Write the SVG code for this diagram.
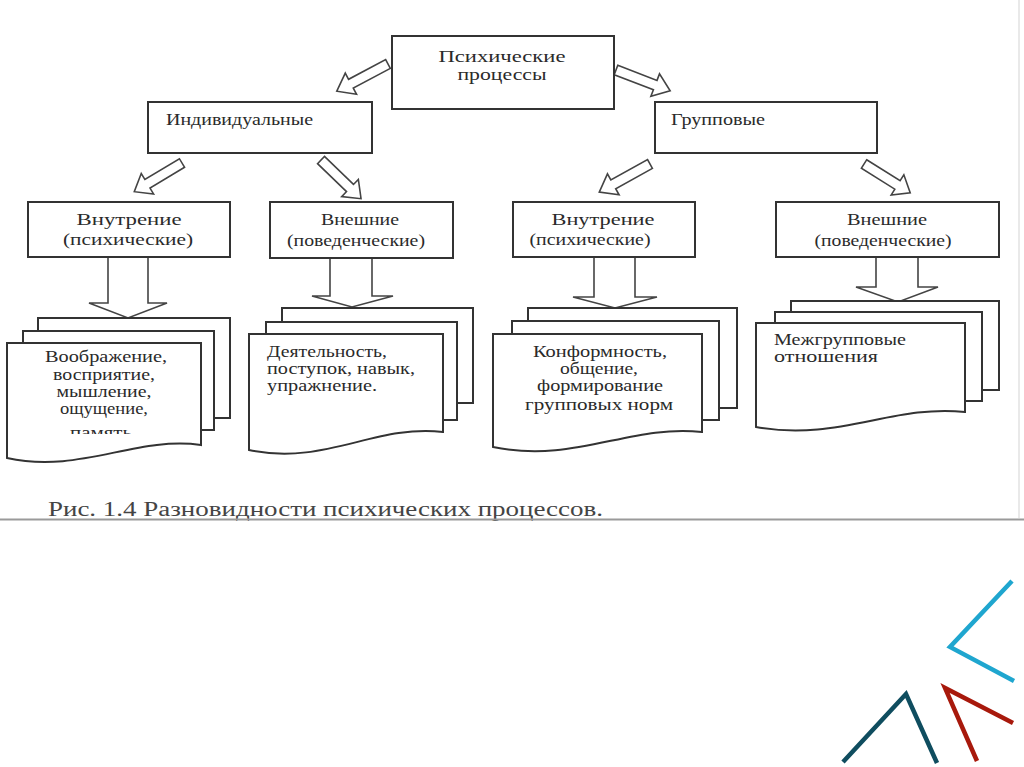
<svg xmlns="http://www.w3.org/2000/svg" xmlns:xlink="http://www.w3.org/1999/xlink" width="1024" height="767" viewBox="0 0 1024 767">
<style>
.box{fill:#fff;stroke:#333;stroke-width:2}
.sheet{fill:#fff;stroke:#333;stroke-width:2}
.barrow{fill:#fff;stroke:#444;stroke-width:1.6;stroke-linejoin:miter}
.t{font-family:"Liberation Serif","Times New Roman",serif;font-size:16px;fill:#2a2a2a}
.c{text-anchor:middle}
.cap{font-family:"Liberation Serif","Times New Roman",serif;font-size:20px;fill:#444}
.deco{fill:none;stroke-width:4.5;stroke-linecap:butt;stroke-linejoin:miter}
</style>
<defs>
<polygon id="da" points="0,-5 42,-5 42,-12 58,0 42,12 42,5 0,5"/>
<clipPath id="clip1"><rect x="0" y="330" width="260" height="104"/></clipPath>
</defs>
<rect width="1024" height="767" fill="#fff"/>
<line x1="1019" y1="0" x2="1019" y2="518" stroke="#e2e2e2" stroke-width="1.5"/>

<g id="connectors">
<use xlink:href="#da" class="barrow" transform="translate(388,64) rotate(152)"/>
<use xlink:href="#da" class="barrow" transform="translate(616,70) rotate(21)"/>
<use xlink:href="#da" class="barrow" transform="translate(182,163) rotate(149) scale(0.96,1)"/>
<use xlink:href="#da" class="barrow" transform="translate(321,160) rotate(44) scale(0.96,1)"/>
<use xlink:href="#da" class="barrow" transform="translate(650,164) rotate(151)"/>
<use xlink:href="#da" class="barrow" transform="translate(864,164) rotate(32) scale(0.94,1)"/>
<polygon class="barrow" points="108,257 148,257 148,303 167,303 128,318 89,303 108,303"/>
<polygon class="barrow" points="330,258 372,258 372,296 393,296 352,307 312,296 330,296"/>
<polygon class="barrow" points="594,257 635,257 635,297 657,297 615,308 573,297 594,297"/>
<polygon class="barrow" points="876,257 918,257 918,287 938,287 898,302 856,287 876,287"/>
</g>

<g id="node-root">
<rect class="box" x="392" y="36" width="222" height="73"/>
<text class="t c" x="502" y="62" font-size="17" textLength="127" lengthAdjust="spacingAndGlyphs">Психические</text>
<text class="t c" x="502" y="80" font-size="17" textLength="89" lengthAdjust="spacingAndGlyphs">процессы</text>
</g>

<g id="node-individual">
<rect class="box" x="148" y="102" width="224" height="51"/>
<text class="t" x="166" y="125" textLength="147" lengthAdjust="spacingAndGlyphs">Индивидуальные</text>
</g>

<g id="node-group">
<rect class="box" x="655" y="102" width="222" height="51"/>
<text class="t" x="671" y="125" textLength="94" lengthAdjust="spacingAndGlyphs">Групповые</text>
</g>

<g id="node-ind-internal">
<rect class="box" x="28" y="202" width="202" height="55"/>
<text class="t c" x="129" y="225" textLength="105" lengthAdjust="spacingAndGlyphs">Внутрение</text>
<text class="t c" x="128" y="245" textLength="130" lengthAdjust="spacingAndGlyphs">(психические)</text>
</g>

<g id="node-ind-external">
<rect class="box" x="270" y="202" width="183" height="56"/>
<text class="t c" x="360" y="225" textLength="78" lengthAdjust="spacingAndGlyphs">Внешние</text>
<text class="t c" x="356" y="246" textLength="138" lengthAdjust="spacingAndGlyphs">(поведенческие)</text>
</g>

<g id="node-grp-internal">
<rect class="box" x="513" y="202" width="182" height="55"/>
<text class="t c" x="603" y="225" textLength="103" lengthAdjust="spacingAndGlyphs">Внутрение</text>
<text class="t c" x="590" y="245" textLength="121" lengthAdjust="spacingAndGlyphs">(психические)</text>
</g>

<g id="node-grp-external">
<rect class="box" x="776" y="202" width="223" height="55"/>
<text class="t c" x="887" y="225" textLength="80" lengthAdjust="spacingAndGlyphs">Внешние</text>
<text class="t c" x="883" y="246" textLength="137" lengthAdjust="spacingAndGlyphs">(поведенческие)</text>
</g>

<g id="doc-ind-internal">
<rect class="sheet" x="38" y="318" width="192" height="100"/>
<rect class="sheet" x="23" y="331" width="191" height="99"/>
<path class="sheet" d="M7,343 H201 V445 C135,436 80,474 7,458 Z"/>
<g clip-path="url(#clip1)">
<text class="t c" x="106" y="362" textLength="122" lengthAdjust="spacingAndGlyphs">Воображение,</text>
<text class="t c" x="104" y="380" textLength="102" lengthAdjust="spacingAndGlyphs">восприятие,</text>
<text class="t c" x="104" y="397" textLength="95" lengthAdjust="spacingAndGlyphs">мышление,</text>
<text class="t c" x="104" y="414" textLength="88" lengthAdjust="spacingAndGlyphs">ощущение,</text>
<text class="t c" x="101" y="438" textLength="62" lengthAdjust="spacingAndGlyphs">память</text>
</g>
</g>

<g id="doc-ind-external">
<rect class="sheet" x="282" y="308" width="191" height="95"/>
<rect class="sheet" x="266" y="322" width="191" height="98"/>
<path class="sheet" d="M249,334 H443 V432 C375,424 325,466 249,450 Z"/>
<text class="t" x="267" y="357" textLength="120" lengthAdjust="spacingAndGlyphs">Деятельность,</text>
<text class="t" x="267" y="374" textLength="148" lengthAdjust="spacingAndGlyphs">поступок, навык,</text>
<text class="t" x="267" y="391" textLength="110" lengthAdjust="spacingAndGlyphs">упражнение.</text>
</g>

<g id="doc-grp-internal">
<rect class="sheet" x="528" y="308" width="209" height="100"/>
<rect class="sheet" x="512" y="321" width="207" height="99"/>
<path class="sheet" d="M493,334 H702 V432 C630,424 575,464 493,447 Z"/>
<text class="t c" x="600" y="357" textLength="134" lengthAdjust="spacingAndGlyphs">Конформность,</text>
<text class="t c" x="599" y="374" textLength="78" lengthAdjust="spacingAndGlyphs">общение,</text>
<text class="t c" x="600" y="391" textLength="126" lengthAdjust="spacingAndGlyphs">формирование</text>
<text class="t c" x="599" y="410" textLength="148" lengthAdjust="spacingAndGlyphs">групповых  норм</text>
</g>

<g id="doc-grp-external">
<rect class="sheet" x="791" y="301" width="208" height="89"/>
<rect class="sheet" x="775" y="312" width="207" height="89"/>
<path class="sheet" d="M756,323 H965 V412 C893,404 838,442 756,427 Z"/>
<text class="t" x="774" y="345" textLength="132" lengthAdjust="spacingAndGlyphs">Межгрупповые</text>
<text class="t" x="774" y="362" textLength="104" lengthAdjust="spacingAndGlyphs">отношения</text>
</g>

<g id="caption">
<text class="cap" x="48" y="516" textLength="555" lengthAdjust="spacingAndGlyphs">Рис. 1.4 Разновидности психических процессов.</text>
<line x1="0" y1="519.5" x2="1024" y2="519.5" stroke="#9a9a9a" stroke-width="2"/>
</g>

<g id="decoration">
<polyline class="deco" stroke="#1fa6cf" points="1012,581 950,647 1014,681"/>
<polyline class="deco" stroke="#a8190c" points="1013,723 945,688 977,761"/>
<polyline class="deco" stroke="#0f4d5f" points="843,762 906,694 937,763"/>
</g>
</svg>
